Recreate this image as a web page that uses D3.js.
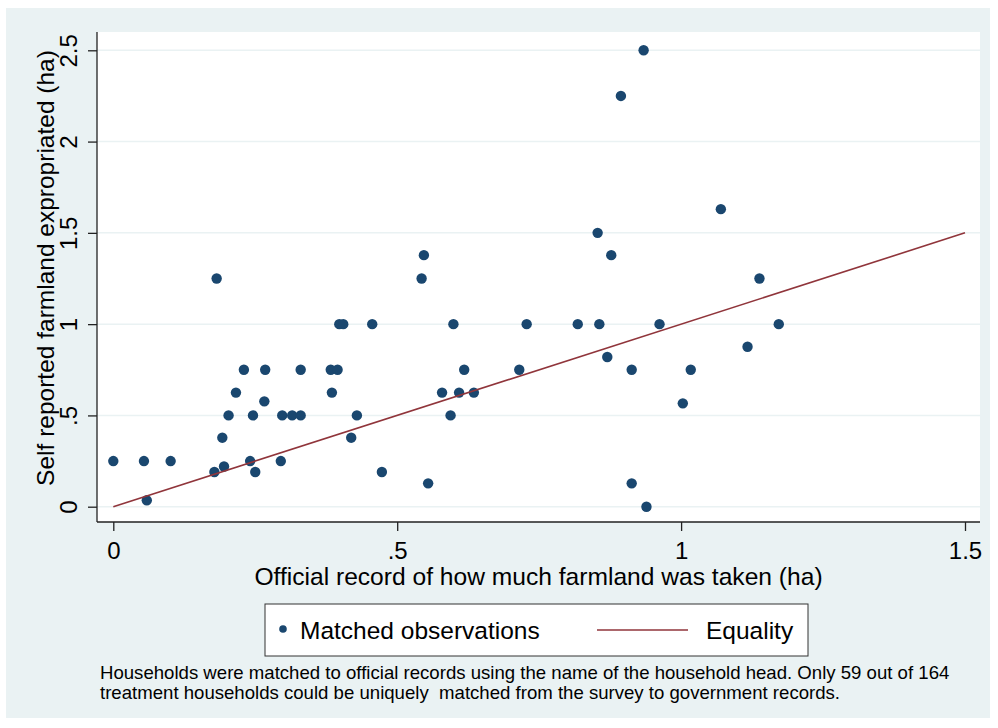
<!DOCTYPE html>
<html>
<head>
<meta charset="utf-8">
<script src="https://cdn.jsdelivr.net/npm/d3@7"></script>
<style>
  body { margin: 0; background: #fff; }
  text { font-family: "Liberation Sans", Arial, Helvetica, sans-serif; fill: #000; }
</style>
</head>
<body>
<div id="chart-container"></div>
<script>
// official record (x) vs self reported (y), both in ha
const officialHa = [0, 0.054, 0.101, 0.059, 0.182, 0.178, 0.195, 0.192, 0.203, 0.216,
  0.230, 0.246, 0.241, 0.250, 0.2675, 0.266, 0.295, 0.2975, 0.315, 0.330,
  0.330, 0.385, 0.383, 0.395, 0.398, 0.405, 0.419, 0.429, 0.456, 0.473,
  0.543, 0.547, 0.5545, 0.599, 0.579, 0.594, 0.609, 0.618, 0.635, 0.715,
  0.728, 0.818, 0.853, 0.856, 0.870, 0.877, 0.894, 0.913, 0.913, 0.934,
  0.939, 0.962, 1.003, 1.017, 1.07, 1.117, 1.138, 1.172];
const selfReportedHa = [0.25, 0.25, 0.25, 0.035, 1.25, 0.19, 0.22, 0.378, 0.5, 0.625,
  0.75, 0.5, 0.25, 0.19, 0.75, 0.577, 0.25, 0.5, 0.5, 0.5,
  0.75, 0.625, 0.75, 0.75, 1.0, 1.0, 0.378, 0.5, 1.0, 0.19,
  1.25, 1.378, 0.128, 1.0, 0.625, 0.5, 0.625, 0.75, 0.625, 0.75,
  1.0, 1.0, 1.5, 1.0, 0.82, 1.378, 2.25, 0.75, 0.128, 2.5,
  0.0, 1.0, 0.566, 0.75, 1.63, 0.876, 1.25, 1.0];
const equalityLine = [0, 1.5];
const xTicks = [0, 0.5, 1, 1.5];
const yTicks = [0, 0.5, 1, 1.5, 2, 2.5];
const tickLabel = v => v === 0 ? "0" : String(v).replace(/^0\./, ".");

const W = 998, H = 728;
// plot region edges
const plot = {left: 97, right: 980, top: 32, bottom: 522};

const svg = d3.select("#chart-container")
  .append("svg")
    .attr("width", W)
    .attr("height", H);

// graph region background (Stata s2color)
svg.append("rect")
  .attr("x", 6).attr("y", 8)
  .attr("width", 984).attr("height", 710)
  .attr("fill", "#eaf2f3");

svg.append("rect")
  .attr("x", plot.left).attr("y", plot.top)
  .attr("width", plot.right - plot.left)
  .attr("height", plot.bottom - plot.top)
  .attr("fill", "#fff");

const x = d3.scaleLinear().domain([0, 1.5]).range([113.3, 965]);
const y = d3.scaleLinear().domain([0, 2.5]).range([506.7, 50.3]);

// gridlines
svg.append("g")
  .selectAll("line")
  .data(yTicks)
  .enter()
  .append("line")
    .attr("x1", plot.left).attr("x2", plot.right)
    .attr("y1", d => y(d)).attr("y2", d => y(d))
    .attr("stroke", "#eaf2f3")
    .attr("stroke-width", 1.5);

// y axis
const yAxis = svg.append("g")
  .attr("transform", `translate(${plot.left},0)`)
  .call(d3.axisLeft(y).tickValues(yTicks).tickFormat(tickLabel).tickSize(9));
yAxis.select(".domain").remove();
yAxis.selectAll(".tick line").attr("stroke", "#222").attr("stroke-width", 1.3);
yAxis.selectAll(".tick text")
  .attr("transform", "rotate(-90)")
  .attr("x", 0).attr("y", -20).attr("dy", 0)
  .attr("text-anchor", "middle")
  .style("font-size", "24px")
  .style("font-family", "Liberation Sans, Arial, sans-serif");

// x axis
const xAxis = svg.append("g")
  .attr("transform", `translate(0,${plot.bottom})`)
  .call(d3.axisBottom(x).tickValues(xTicks).tickFormat(tickLabel).tickSize(9));
xAxis.select(".domain").remove();
xAxis.selectAll(".tick line").attr("stroke", "#222").attr("stroke-width", 1.3);
xAxis.selectAll(".tick text")
  .attr("y", 37).attr("dy", 0)
  .style("font-size", "24px")
  .style("font-family", "Liberation Sans, Arial, sans-serif");

// axis lines
svg.append("line")
  .attr("x1", plot.left).attr("x2", plot.left)
  .attr("y1", plot.top).attr("y2", plot.bottom)
  .attr("stroke", "#222").attr("stroke-width", 1.3);
svg.append("line")
  .attr("x1", plot.left).attr("x2", plot.right)
  .attr("y1", plot.bottom).attr("y2", plot.bottom)
  .attr("stroke", "#222").attr("stroke-width", 1.3);

// points
svg.append("g")
  .selectAll("circle")
  .data(officialHa.map((d, i) => ({x: d, y: selfReportedHa[i]})))
  .enter()
  .append("circle")
    .attr("cx", d => x(d.x))
    .attr("cy", d => y(d.y))
    .attr("r", 5.2)
    .attr("fill", "#1a476f");

// equality line
svg.append("line")
  .attr("x1", x(equalityLine[0])).attr("y1", y(equalityLine[0]))
  .attr("x2", x(equalityLine[1])).attr("y2", y(equalityLine[1]))
  .attr("stroke", "#90353b")
  .attr("stroke-width", 1.6);

// axis titles
svg.append("text")
  .attr("x", (plot.left + plot.right) / 2)
  .attr("y", 585)
  .attr("text-anchor", "middle")
  .style("font-size", "24.6px")
  .text("Official record of how much farmland was taken (ha)");

svg.append("text")
  .attr("transform", `translate(54,${(plot.top + plot.bottom) / 2 - 9}) rotate(-90)`)
  .attr("text-anchor", "middle")
  .style("font-size", "24.5px")
  .text("Self reported farmland expropriated (ha)");

// legend
const legend = svg.append("g");
legend.append("rect")
  .attr("x", 265).attr("y", 604)
  .attr("width", 543).attr("height", 52)
  .attr("fill", "#fff")
  .attr("stroke", "#333")
  .attr("stroke-width", 1);
legend.append("circle")
  .attr("cx", 283).attr("cy", 629)
  .attr("r", 3.8)
  .attr("fill", "#1a476f");
legend.append("text")
  .attr("x", 300).attr("y", 639)
  .style("font-size", "24.5px")
  .text("Matched observations");
legend.append("line")
  .attr("x1", 597).attr("x2", 688)
  .attr("y1", 630).attr("y2", 630)
  .attr("stroke", "#90353b")
  .attr("stroke-width", 1.6);
legend.append("text")
  .attr("x", 706).attr("y", 639)
  .style("font-size", "24.5px")
  .text("Equality");

// note
const note = svg.append("text")
  .attr("x", 100)
  .style("font-size", "18.6px");
note.append("tspan").attr("x", 100).attr("y", 679)
  .text("Households were matched to official records using the name of the household head. Only 59 out of 164");
note.append("tspan").attr("x", 100).attr("y", 699)
  .text("treatment households could be uniquely\u00a0 matched from the survey to government records.");
</script>
</body>
</html>
